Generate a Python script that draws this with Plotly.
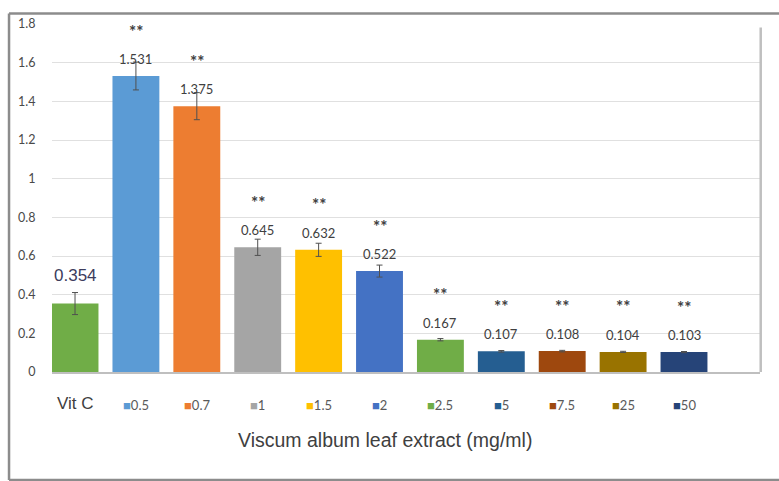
import plotly.graph_objects as go

categories = ["Vit C", "0.5", "0.7", "1", "1.5", "2", "2.5", "5", "7.5", "25", "50"]
values = [0.354, 1.531, 1.375, 0.645, 0.632, 0.522, 0.167, 0.107, 0.108, 0.104, 0.103]
errors = [0.057, 0.072, 0.070, 0.042, 0.034, 0.031, 0.006, 0.004, 0.004, 0.003, 0.003]
value_labels = ["0.354", "1.531", "1.375", "0.645", "0.632", "0.522", "0.167", "0.107", "0.108", "0.104", "0.103"]
significance = ["", "**", "**", "**", "**", "**", "**", "**", "**", "**", "**"]
colors = ["#70AD47", "#5B9BD5", "#ED7D31", "#A5A5A5", "#FFC000", "#4472C4",
          "#70AD47", "#255E91", "#9E480E", "#997300", "#264478"]
y_ticks = [0, 0.2, 0.4, 0.6, 0.8, 1, 1.2, 1.4, 1.6, 1.8]
x_title = "Viscum album leaf extract (mg/ml)"

fig = go.Figure()
fig.add_trace(go.Bar(
    x=categories, y=values,
    marker=dict(color=colors, line=dict(width=0)),
    error_y=dict(type="data", array=errors, color="#505050", thickness=1, width=3),
    showlegend=False, hoverinfo="x+y",
))

ann = []
label_font = dict(family="Lato", size=13, color="#404040")
for i, c in enumerate(categories):
    if i == 0:
        ann.append(dict(x=i, y=values[i], xref="x", yref="y", text=value_labels[i],
                        showarrow=False, yanchor="middle", yshift=28,
                        font=dict(family="Liberation Sans", size=17, color="#3c3c5c")))
        ann.append(dict(x=i, y=0, xref="x", yref="paper", text="Vit C", showarrow=False,
                        yanchor="middle", yshift=-31,
                        font=dict(family="Liberation Sans", size=17, color="#404040")))
    else:
        ann.append(dict(x=i, y=values[i], xref="x", yref="y", text=value_labels[i],
                        showarrow=False, yanchor="middle", yshift=17, font=label_font))
        ann.append(dict(x=i, y=values[i], xref="x", yref="y", text="<b>%s</b>" % significance[i],
                        showarrow=False, yanchor="middle", yshift=45,
                        font=dict(family="Lato", size=17, color="#404040")))
        ann.append(dict(x=i, y=0, xref="x", yref="paper",
                        text="<span style='color:%s;font-size:13px'>■</span>%s" % (colors[i], c),
                        showarrow=False, yanchor="middle", yshift=-33,
                        font=dict(family="Lato", size=13, color="#595959")))

ann.append(dict(x=0.47, y=0, xref="paper", yref="paper", text=x_title, showarrow=False,
                yanchor="middle", yshift=-68,
                font=dict(family="Liberation Sans", size=19.5, color="#404040")))

frame = dict(color="#8c8c8c", width=2.5)
shapes = [
    # outer frame (top, left, bottom edges; right edge lies outside the picture)
    dict(type="line", xref="paper", yref="paper", x0=-0.0607, x1=1.2, y0=1.030, y1=1.030, line=frame),
    dict(type="line", xref="paper", yref="paper", x0=-0.0607, x1=-0.0607, y0=-0.31, y1=1.030, line=frame),
    dict(type="line", xref="paper", yref="paper", x0=-0.0607, x1=1.2, y0=-0.31, y1=-0.31, line=frame),
    # plot-area right border
    dict(type="line", xref="paper", yref="paper", x0=1.001, x1=1.001, y0=0, y1=0.99,
         line=dict(color="#bfbfbf", width=2.5)),
]

fig.update_layout(
    width=779, height=481,
    margin=dict(l=52, r=19, t=23.5, b=109),
    paper_bgcolor="white", plot_bgcolor="white",
    bargap=0.23,
    annotations=ann, shapes=shapes,
    xaxis=dict(type="category", range=[-0.378, 11.248], showticklabels=False,
               showgrid=False, showline=True, linecolor="#bfbfbf", linewidth=1.5,
               zeroline=False, ticks=""),
    yaxis=dict(range=[0, 1.8], tickvals=y_ticks, ticktext=[("%g" % v) for v in y_ticks],
               showgrid=True, gridcolor="#e0e0e0", gridwidth=1, zeroline=False,
               ticks="outside", ticklen=13, tickcolor="rgba(0,0,0,0)",
               tickfont=dict(family="Lato", size=12.5, color="#4a4a4a")),
)

fig.write_html(
    "out.html",
    config={"displayModeBar": False},
    post_script="document.body.style.margin='0';document.body.style.overflow='hidden';",
)
